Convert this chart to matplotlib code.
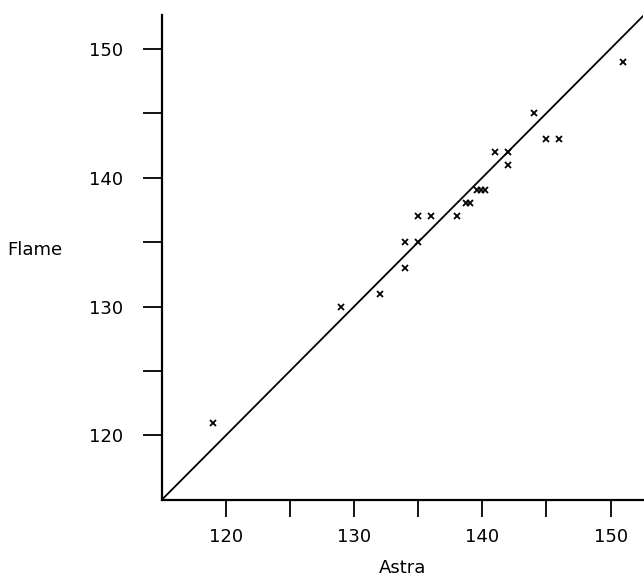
import numpy as np
import matplotlib
matplotlib.use("Agg")
import matplotlib.pyplot as plt

# data
astra = [119, 129, 132, 134, 134, 135, 135, 136, 138, 138.7, 139.0,
         139.6, 139.9, 140.2, 141, 142, 142, 144, 145, 146, 151]
flame = [121, 130, 131, 133, 135, 135, 137, 137, 137, 138, 138,
         139, 139, 139, 142, 142, 141, 145, 143, 143, 149]

x_ticks = [120, 130, 140, 150]
y_ticks = [120, 130, 140, 150]
minor_ticks = [125, 135, 145]

fig = plt.figure(figsize=(6.44, 5.8), dpi=100)
ax = fig.add_axes([0.251, 0.138, 0.747, 0.836])

# line of equality
ax.plot([115, 160], [115, 160], color="black", lw=1.3, zorder=1)
ax.plot(astra, flame, linestyle="none", marker="x", color="black",
        markersize=4, mew=1.3, zorder=2)

ax.set_xlim(115, 152.5)
ax.set_ylim(115, 152.6)

for side in ("top", "right"):
    ax.spines[side].set_visible(False)
for side in ("left", "bottom"):
    ax.spines[side].set_linewidth(1.6)

ax.set_xticks(x_ticks)
ax.set_yticks(y_ticks)
ax.set_xticks(minor_ticks, minor=True)
ax.set_yticks(minor_ticks, minor=True)
ax.tick_params(which="both", direction="out", width=1.3, labelsize=13)
ax.tick_params(axis="x", which="both", length=12, pad=8)
ax.tick_params(axis="y", which="both", length=14, pad=14)

ax.set_xlabel("Astra", fontsize=13)
ax.xaxis.set_label_coords(0.5, -0.122)
ax.set_ylabel("Flame", fontsize=13, rotation=0, ha="left", va="center")
ax.yaxis.set_label_coords(-0.32, 0.515)

fig.savefig("out.png", dpi=100)
